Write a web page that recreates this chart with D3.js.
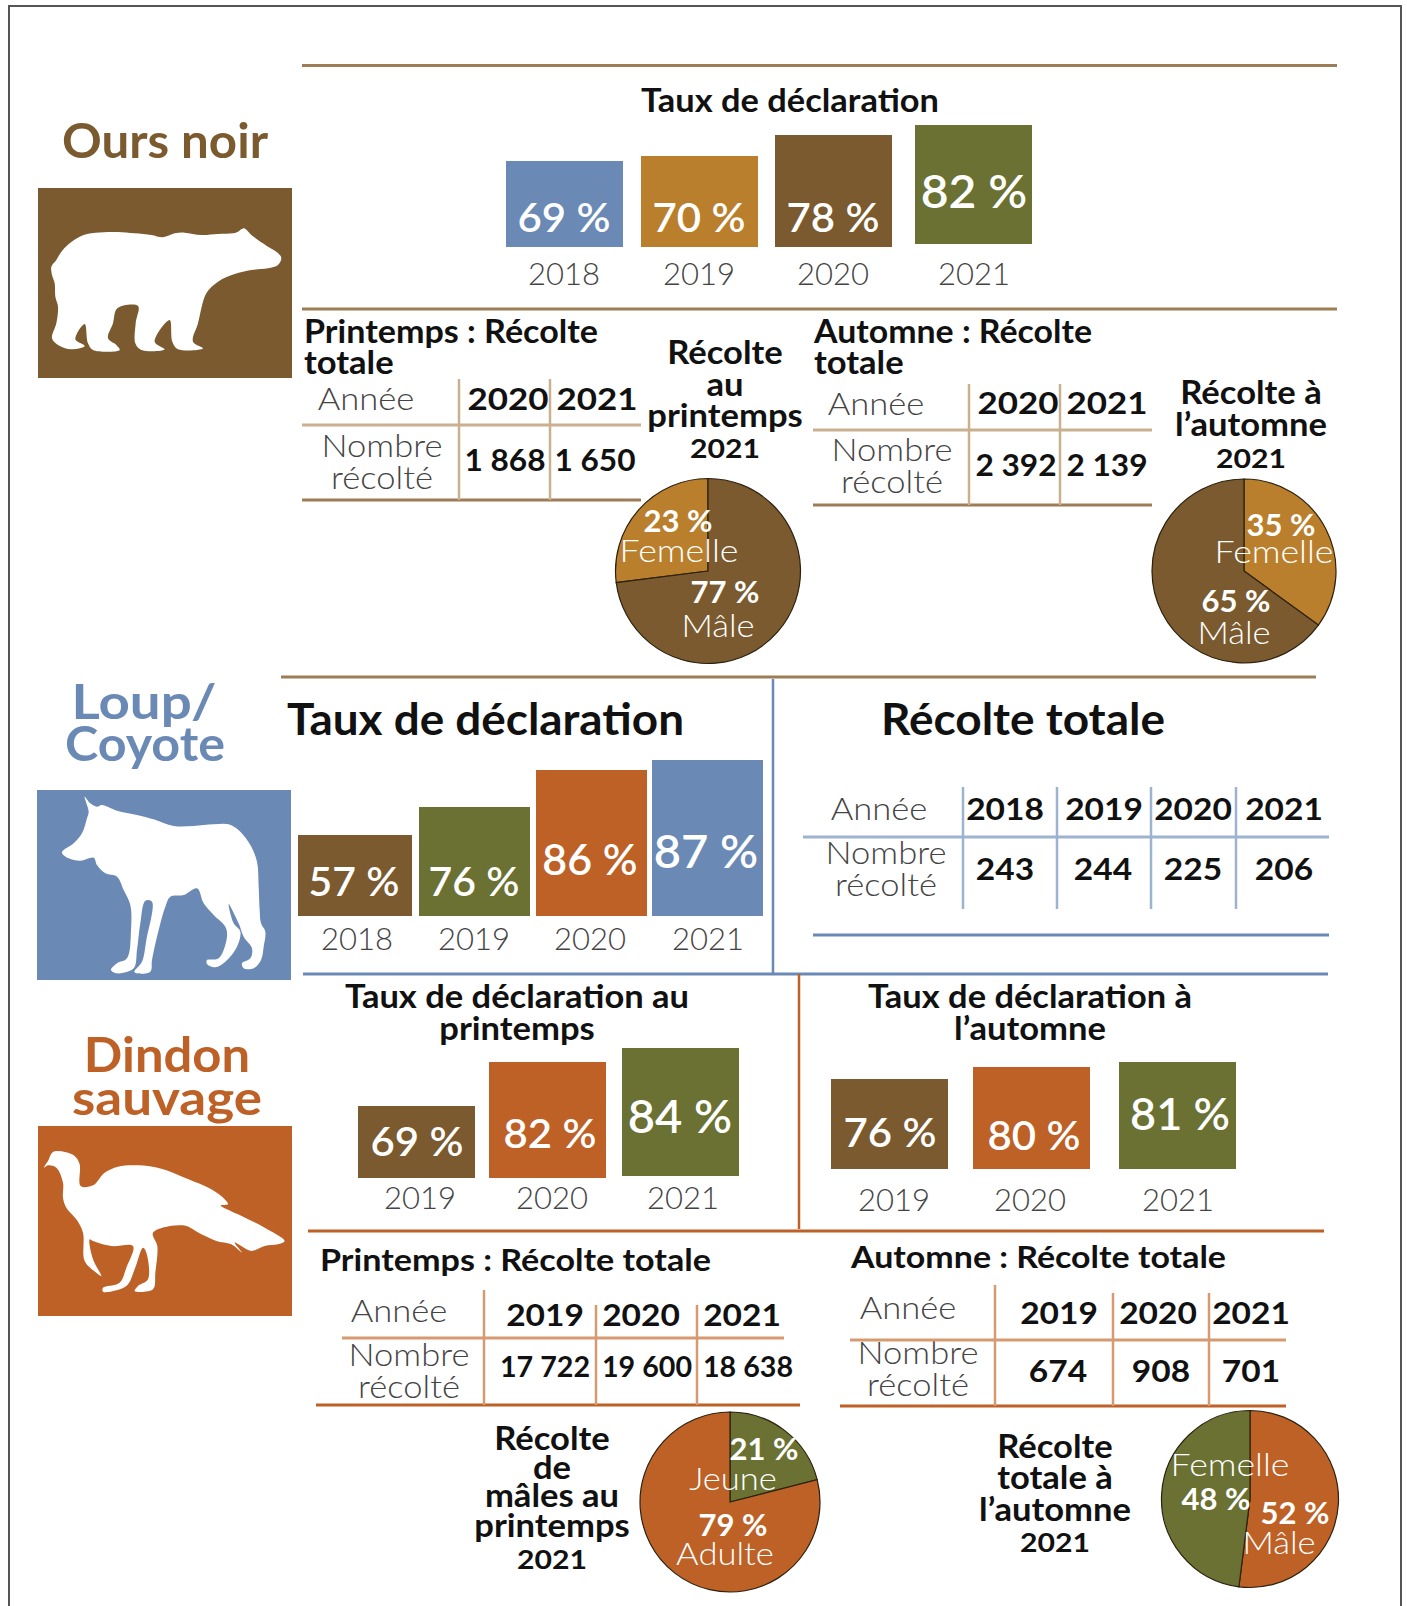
<!DOCTYPE html>
<html>
<head>
<meta charset="utf-8">
<script src="https://cdn.jsdelivr.net/npm/d3@7"></script>
<style>
  body { margin: 0; background: #fff; }
  text { font-family: Lato, "Open Sans", sans-serif; }
</style>
</head>
<body>
<div id="chart"></div>
<script>
// data
const bearYears = ["2018", "2019", "2020", "2021"];
const bearRates = [69, 70, 78, 82];
const bearSpringYears = ["2020", "2021"];
const bearSpringHarvest = ["1 868", "1 650"];
const bearFallYears = ["2020", "2021"];
const bearFallHarvest = ["2 392", "2 139"];
// the wedge in the source is drawn wider than its 23 % label says
const bearSpringSlices = [27, 73];
const bearSpringLabels = ["23 %", "77 %"];
const bearFallSlices = [35, 65];
const bearFallLabels = ["35 %", "65 %"];

const wolfYears = ["2018", "2019", "2020", "2021"];
const wolfRates = [57, 76, 86, 87];
const wolfHarvest = ["243", "244", "225", "206"];

const turkeySpringYears = ["2019", "2020", "2021"];
const turkeySpringRates = [69, 82, 84];
const turkeyFallYears = ["2019", "2020", "2021"];
const turkeyFallRates = [76, 80, 81];
const turkeySpringHarvest = ["17 722", "19 600", "18 638"];
const turkeyFallHarvest = ["674", "908", "701"];
const turkeySpringSlices = [21, 79];
const turkeySpringLabels = ["21 %", "79 %"];
const turkeyFallSlices = [52, 48];
const turkeyFallLabels = ["52 %", "48 %"];

const brown = "#7a5a2e", ochre = "#b97f2c", green = "#6a7132", orange = "#bd6127", blue = "#6a8ab5";
const darkText = "#111", greyText = "#444";

const bearShape = [[730,143],[715,125],[690,110],[660,90],[640,75],[618,55],[600,65],[585,70],[540,72],[490,75],[440,68],[410,70],[375,82],[340,75],[290,70],[240,66],[210,66],[160,70],[125,80],[95,100],[70,125],[55,150],[40,170],[42,195],[50,220],[52,260],[60,290],[55,340],[42,385],[60,405],[100,418],[140,408],[112,388],[140,342],[150,400],[165,420],[245,420],[235,405],[210,385],[225,340],[238,295],[300,288],[293,340],[292,400],[310,420],[380,418],[350,395],[395,330],[403,395],[420,418],[495,415],[465,395],[480,340],[505,250],[540,215],[590,192],[640,180],[690,175],[720,165]];
const wolfShape = [[143,20],[160,40],[180,50],[195,45],[240,62],[300,75],[350,88],[410,108],[470,108],[530,103],[575,103],[610,125],[640,165],[660,215],[665,290],[668,360],[672,400],[685,425],[680,470],[672,510],[650,535],[620,535],[615,520],[640,505],[645,475],[620,440],[605,400],[575,342],[590,400],[610,425],[600,470],[565,515],[535,532],[510,522],[510,510],[545,505],[570,440],[565,410],[530,375],[500,340],[480,295],[440,315],[400,320],[385,350],[365,420],[345,510],[340,545],[300,550],[292,545],[315,515],[328,450],[345,335],[325,332],[310,400],[300,480],[290,535],[240,550],[222,540],[240,520],[270,505],[282,420],[280,345],[260,300],[240,260],[205,250],[180,225],[170,203],[130,212],[95,205],[75,187],[110,160],[135,130],[150,85],[155,65]];
const turkeyShape = [[18,95],[30,75],[45,48],[80,48],[110,60],[125,85],[128,150],[165,148],[200,110],[240,92],[300,88],[370,98],[440,125],[520,160],[560,190],[570,205],[548,208],[600,235],[680,275],[740,315],[720,325],[680,330],[640,345],[610,330],[590,320],[612,350],[580,325],[535,315],[490,295],[435,268],[345,290],[358,330],[352,410],[345,460],[290,465],[300,450],[330,430],[325,350],[315,335],[290,400],[265,450],[195,467],[195,455],[245,440],[265,395],[285,330],[220,330],[165,315],[155,310],[165,370],[190,420],[175,410],[140,375],[135,290],[115,250],[85,215],[75,185],[75,140],[55,95],[30,88]];

const svg = d3.select("#chart").append("svg")
  .attr("width", 1407)
  .attr("height", 1606);

// text helper, stretched a bit because Lato is narrower than the original face
function label(x, y, str, size, opts) {
  opts = opts || {};
  const t = svg.append("text")
    .attr("x", x)
    .attr("y", y)
    .attr("font-size", size)
    .attr("font-weight", opts.weight || 400)
    .attr("fill", opts.fill || darkText)
    .attr("text-anchor", opts.anchor || "middle")
    .text(str);
  const w = opts.width || t.node().getComputedTextLength() * 1.08;
  t.attr("textLength", w).attr("lengthAdjust", "spacingAndGlyphs");
  return t;
}

function rule(x1, y1, x2, y2, color, w) {
  svg.append("line")
    .attr("x1", x1).attr("y1", y1)
    .attr("x2", x2).attr("y2", y2)
    .attr("stroke", color)
    .attr("stroke-width", w);
}

function rateBars(years, rates, colors, cfg) {
  const x = d3.scaleOrdinal().domain(years).range(cfg.xs);
  const y = d3.scaleLinear().domain(rates).range(cfg.tops);
  const base = d3.scaleOrdinal().domain(years).range(cfg.bases);
  const barW = d3.scaleOrdinal().domain(years).range(cfg.widths);
  const color = d3.scaleOrdinal().domain(years).range(colors);
  const rows = years.map((year, i) => ({ year: year, rate: rates[i], i: i }));

  svg.append("g").selectAll("rect")
    .data(rows)
    .enter()
    .append("rect")
    .attr("x", d => x(d.year))
    .attr("y", d => y(d.rate))
    .attr("width", d => barW(d.year))
    .attr("height", d => base(d.year) - y(d.rate))
    .attr("fill", d => color(d.year));

  rows.forEach(d => {
    const size = cfg.labelSize[d.i];
    label(cfg.labelXs[d.i], cfg.labelY[d.i], d.rate + " %", size, { fill: "#fff", weight: 600, width: size * 2.27 });
    label(cfg.yearXs[d.i], cfg.yearY, d.year, 32, { fill: greyText, weight: 300, width: 72 });
  });
}

function harvestTable(years, values, cfg) {
  years.forEach((year, i) => {
    label(cfg.yearXs[i], cfg.yearY, year, 31, { weight: 700, width: cfg.yearWidth });
    label(cfg.valueXs[i], cfg.valueY, values[i], cfg.valueSize || 31, { weight: 700, width: cfg.valueWidth });
  });
  label(cfg.rowX[0], cfg.anneeY, "Année", 32, { fill: greyText, weight: 300 });
  label(cfg.rowX[1], cfg.nombreY, "Nombre", 32, { fill: greyText, weight: 300 });
  label(cfg.rowX[1], cfg.nombreY + 32, "récolté", 32, { fill: greyText, weight: 300 });
  rule(cfg.midRule[0], cfg.midRule[2], cfg.midRule[1], cfg.midRule[2], cfg.thin, 3);
  rule(cfg.botRule[0], cfg.botRule[2], cfg.botRule[1], cfg.botRule[2], cfg.thick, 3);
  cfg.verts.forEach((v, i) => rule(v, cfg.vertTops[i], v, cfg.vertBottom || cfg.botRule[2], cfg.thin, 2.5));
}

function pieChart(slices, colors, cx, cy, r, startAngle) {
  const pie = d3.pie().sort(null).startAngle(startAngle).endAngle(startAngle + 2 * Math.PI);
  const arc = d3.arc().innerRadius(0).outerRadius(r);
  svg.append("g")
    .attr("transform", `translate(${cx},${cy})`)
    .selectAll("path")
    .data(pie(slices))
    .enter()
    .append("path")
    .attr("d", arc)
    .attr("fill", (d, i) => colors[i])
    .attr("stroke", "#2c2210")
    .attr("stroke-width", 1.2);
}

function silhouette(points, dx, dy) {
  const line = d3.line()
    .x(d => dx + d[0] / 3)
    .y(d => dy + d[1] / 3)
    .curve(d3.curveCatmullRomClosed.alpha(0.5));
  svg.append("path").attr("d", line(points)).attr("fill", "#fff");
}

// frame, open at the bottom of the page
svg.append("path")
  .attr("d", "M9,1606V6H1401V1606")
  .attr("fill", "none")
  .attr("stroke", "#555")
  .attr("stroke-width", 2);

const pctW = 69; // width of the bold "23 %" labels in the pies

// ---- Ours noir ----
label(165, 158, "Ours noir", 47, { fill: brown, weight: 700, width: 206 });
svg.append("rect").attr("x", 38).attr("y", 188).attr("width", 254).attr("height", 190).attr("fill", brown);
silhouette(bearShape, 38, 210);

rule(302, 65.5, 1337, 65.5, "#9c7d55", 3);
rule(302, 309, 1337, 309, "#9c7d55", 3);
label(790, 112, "Taux de déclaration", 32, { weight: 700, width: 298 });

rateBars(bearYears, bearRates, [blue, ochre, brown, green], {
  xs: [506, 641, 775, 915], tops: [161, 156, 135, 125], bases: [247, 247, 247, 244], widths: [117, 117, 117, 117],
  labelXs: [564, 699, 833, 974], labelY: [232, 232, 232, 208], labelSize: [41, 41, 41, 47],
  yearXs: [564, 699, 833, 974], yearY: 285
});

label(304, 343, "Printemps : Récolte", 32, { weight: 700, anchor: "start", width: 294 });
label(304, 374, "totale", 32, { weight: 700, anchor: "start" });
harvestTable(bearSpringYears, bearSpringHarvest, {
  yearXs: [508, 597], yearY: 410, yearWidth: 81, valueXs: [505, 595], valueY: 471, valueWidth: 81, rowX: [366, 382], anneeY: 410, nombreY: 457,
  midRule: [302, 641, 425], botRule: [302, 641, 500], verts: [459, 550], vertTops: [379, 379], thin: "#c9b08f", thick: "#9c7d55"
});
label(725, 364, "Récolte", 32, { weight: 700 });
label(725, 396, "au", 32, { weight: 700 });
label(725, 427, "printemps", 32, { weight: 700 });
label(725, 458, "2021", 27, { weight: 700, width: 70 });
pieChart(bearSpringSlices, [ochre, brown], 708, 571, 92.5, -bearSpringSlices[0] / 100 * 2 * Math.PI);
label(678, 532, bearSpringLabels[0], 31, { fill: "#fff", weight: 700, width: pctW });
label(679, 562, "Femelle", 32, { fill: "#fff", weight: 300, width: 119 });
label(725, 603, bearSpringLabels[1], 31, { fill: "#fff", weight: 700, width: pctW });
label(718, 637, "Mâle", 32, { fill: "#fff", weight: 300 });

label(814, 343, "Automne : Récolte", 32, { weight: 700, anchor: "start", width: 278 });
label(814, 374, "totale", 32, { weight: 700, anchor: "start" });
harvestTable(bearFallYears, bearFallHarvest, {
  yearXs: [1018, 1107], yearY: 414, yearWidth: 81, valueXs: [1016, 1107], valueY: 476, valueWidth: 81, rowX: [876, 892], anneeY: 415, nombreY: 461,
  midRule: [813, 1152, 430], botRule: [813, 1152, 505], verts: [969, 1060], vertTops: [384, 384], thin: "#c9b08f", thick: "#9c7d55"
});
label(1251, 404, "Récolte à", 32, { weight: 700 });
label(1251, 436, "l’automne", 32, { weight: 700 });
label(1251, 468, "2021", 27, { weight: 700, width: 70 });
pieChart(bearFallSlices, [ochre, brown], 1244, 571, 92, 0);
label(1281, 536, bearFallLabels[0], 31, { fill: "#fff", weight: 700, width: pctW });
label(1274, 563, "Femelle", 32, { fill: "#fff", weight: 300, width: 119 });
label(1236, 612, bearFallLabels[1], 31, { fill: "#fff", weight: 700, width: pctW });
label(1234, 644, "Mâle", 32, { fill: "#fff", weight: 300 });

// ---- Loup / Coyote ----
rule(281, 677, 1316, 677, "#9c7d55", 3);
rule(773, 679, 773, 973, blue, 2.5);
rule(303, 974, 1328, 974, blue, 3);
label(144, 719, "Loup/", 47, { fill: blue, weight: 700, width: 145 });
label(145, 761, "Coyote", 47, { fill: blue, weight: 700, width: 160 });
svg.append("rect").attr("x", 37).attr("y", 790).attr("width", 254).attr("height", 190).attr("fill", blue);
silhouette(wolfShape, 37, 790);

label(287, 735, "Taux de déclaration", 43, { weight: 700, anchor: "start", width: 397 });
label(1023, 735, "Récolte totale", 43, { weight: 700, width: 284 });

rateBars(wolfYears, wolfRates, [brown, green, orange, blue], {
  xs: [298, 419, 536, 652], tops: [835, 807, 770, 760], bases: [916, 916, 916, 916], widths: [114, 111, 111, 111],
  labelXs: [354, 474, 590, 706], labelY: [896, 896, 875, 868], labelSize: [40, 40, 42, 46],
  yearXs: [357, 474, 590, 708], yearY: 950
});
harvestTable(wolfYears, wolfHarvest, {
  yearXs: [1005, 1104, 1193, 1284], yearY: 820, valueXs: [1005, 1103, 1193, 1284], valueY: 880, rowX: [879, 886], anneeY: 820, nombreY: 864,
  midRule: [803, 1329, 837], botRule: [813, 1329, 935], verts: [963, 1057, 1151, 1236], vertTops: [787, 787, 787, 787], vertBottom: 909, thin: "#9db3d0", thick: blue
});

// ---- Dindon sauvage ----
rule(799, 974, 799, 1229, orange, 2.5);
rule(308, 1231, 1324, 1231, orange, 3);
label(167, 1072, "Dindon", 47, { fill: orange, weight: 700 });
label(167, 1115, "sauvage", 47, { fill: orange, weight: 700, width: 190 });
svg.append("rect").attr("x", 38).attr("y", 1126).attr("width", 254).attr("height", 190).attr("fill", orange);
silhouette(turkeyShape, 38, 1136);

label(517, 1008, "Taux de déclaration au", 32, { weight: 700, width: 344 });
label(517, 1040, "printemps", 32, { weight: 700 });
label(1030, 1008, "Taux de déclaration à", 32, { weight: 700, width: 324 });
label(1030, 1040, "l’automne", 32, { weight: 700 });

rateBars(turkeySpringYears, turkeySpringRates, [brown, orange, green], {
  xs: [358, 489, 622], tops: [1106, 1062, 1048], bases: [1178, 1178, 1176], widths: [117, 117, 117],
  labelXs: [417, 550, 680], labelY: [1156, 1148, 1133], labelSize: [41, 41, 46],
  yearXs: [420, 552, 683], yearY: 1209
});
rateBars(turkeyFallYears, turkeyFallRates, [brown, orange, green], {
  xs: [831, 973, 1119], tops: [1079, 1067, 1062], bases: [1169, 1169, 1169], widths: [117, 117, 117],
  labelXs: [890, 1034, 1180], labelY: [1147, 1150, 1130], labelSize: [41, 41, 44],
  yearXs: [894, 1030, 1178], yearY: 1211
});

label(320, 1271, "Printemps : Récolte totale", 31, { weight: 700, anchor: "start", width: 391 });
harvestTable(turkeySpringYears, turkeySpringHarvest, {
  yearXs: [545, 641, 742], yearY: 1326, valueXs: [545, 647, 748], valueY: 1377, valueSize: 29, valueWidth: 90, rowX: [399, 409], anneeY: 1322, nombreY: 1366,
  midRule: [342, 784, 1338], botRule: [316, 800, 1405], verts: [484, 596, 697], vertTops: [1290, 1305, 1305], thin: "#d69a70", thick: orange
});
label(552, 1450, "Récolte", 32, { weight: 700 });
label(552, 1479, "de", 32, { weight: 700 });
label(552, 1507, "mâles au", 32, { weight: 700 });
label(552, 1537, "printemps", 32, { weight: 700 });
label(552, 1569, "2021", 27, { weight: 700, width: 70 });
pieChart(turkeySpringSlices, [green, orange], 730, 1502, 90, 0);
label(764, 1460, turkeySpringLabels[0], 31, { fill: "#fff", weight: 700, width: pctW });
label(733, 1490, "Jeune", 32, { fill: "#fff", weight: 300 });
label(733, 1536, turkeySpringLabels[1], 31, { fill: "#fff", weight: 700, width: pctW });
label(725, 1565, "Adulte", 32, { fill: "#fff", weight: 300 });

label(851, 1268, "Automne : Récolte totale", 31, { weight: 700, anchor: "start", width: 375 });
harvestTable(turkeyFallYears, turkeyFallHarvest, {
  yearXs: [1059, 1158, 1251], yearY: 1324, valueXs: [1058, 1161, 1251], valueY: 1382, rowX: [908, 918], anneeY: 1319, nombreY: 1364,
  midRule: [850, 1286, 1340], botRule: [840, 1286, 1406], verts: [995, 1113, 1209], vertTops: [1285, 1293, 1293], thin: "#d69a70", thick: orange
});
label(1055, 1458, "Récolte", 32, { weight: 700 });
label(1055, 1489, "totale à", 32, { weight: 700 });
label(1055, 1521, "l’automne", 32, { weight: 700 });
label(1055, 1552, "2021", 27, { weight: 700, width: 70 });
pieChart(turkeyFallSlices, [orange, green], 1250, 1499, 88.5, 0);
label(1230, 1476, "Femelle", 32, { fill: "#fff", weight: 300, width: 119 });
label(1216, 1510, turkeyFallLabels[1], 31, { fill: "#fff", weight: 700, width: pctW });
label(1295, 1524, turkeyFallLabels[0], 31, { fill: "#fff", weight: 700, width: pctW });
label(1279, 1554, "Mâle", 32, { fill: "#fff", weight: 300 });
</script>
</body>
</html>
